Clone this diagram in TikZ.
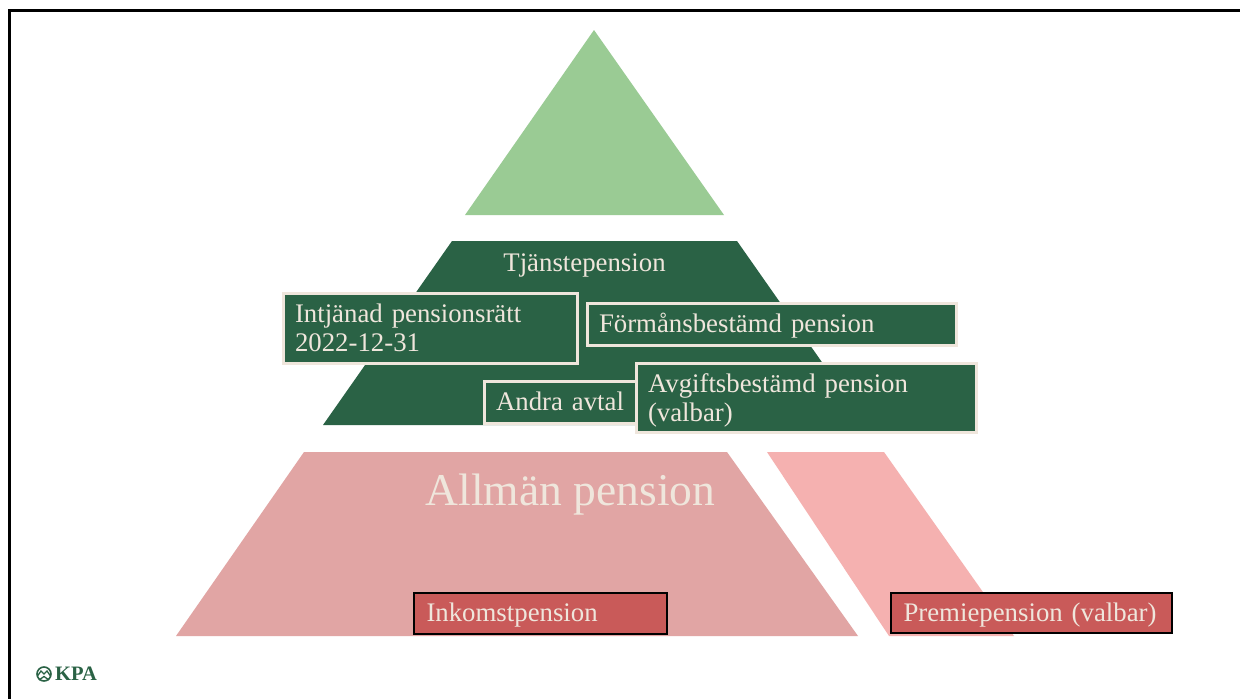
\documentclass[tikz,border=0pt]{standalone}
\usepackage{fontspec}
\setmainfont[WordSpace=0.72]{Liberation Serif}
\newfontfamily\bigserif{Liberation Serif}
\definecolor{cream}{HTML}{EFE6DC}
\definecolor{darkgreen}{HTML}{2A6245}
\definecolor{lightgreen}{HTML}{9ACB94}
\definecolor{rosepink}{HTML}{E1A5A4}
\definecolor{lightpink}{HTML}{F5B1B0}
\definecolor{boxred}{HTML}{C95A59}
\tikzset{
  lbl/.style={text=cream,font=\fontsize{26.8}{29}\selectfont,inner sep=0pt},
  gbox/.style={lbl,draw=cream,line width=3pt,fill=darkgreen,anchor=north west,align=left,inner xsep=11.5pt,inner ysep=0pt},
  rbox/.style={lbl,draw=black,line width=2pt,fill=boxred,anchor=north west,align=left,inner xsep=12.5pt,inner ysep=0pt,text height=22pt,text depth=5pt},
  oneline/.style={text height=20pt,text depth=5pt},
}
\begin{document}
\begin{tikzpicture}[x=1pt,y=-1pt]
\useasboundingbox (0,0) rectangle (1240,699);
\fill[white] (0,0) rectangle (1240,699);
\draw[black,line width=3pt] (9.5,699) -- (9.5,10.5) -- (1240,10.5);
\fill[lightgreen] (594,30) -- (724,215) -- (465,215) -- cycle;
\fill[darkgreen] (452,241) -- (737,241) -- (866,425) -- (323,425) -- cycle;
\fill[rosepink] (304,452) -- (727,452) -- (858,636) -- (176,636) -- cycle;
\fill[lightpink] (767,452) -- (884,452) -- (1014,636) -- (889,636) -- cycle;
\node[lbl] (tj) at (584.5,265) {Tjänstepension};
\node[lbl,font=\bigserif\fontsize{45.5}{50}\selectfont] (allm) at (570.5,495) {Allmän pension};
\node[gbox,text width=271pt,minimum height=70pt] (intj) at (282,292) {Intjänad pensionsrätt\\2022-12-31\rule[-2pt]{0pt}{0pt}};
\node[gbox,oneline,text width=346pt,minimum height=42pt] (form) at (586,302) {Förmånsbestämd pension};
\node[gbox,oneline,text width=130pt,minimum height=42pt] (andra) at (483,380) {Andra avtal};
\node[gbox,text width=317pt,minimum height=69pt] (avg) at (635,362) {\rule{0pt}{24pt}Avgiftsbestämd pension\\(valbar)};
\node[rbox,text width=228pt,minimum height=41pt] (ink) at (413,591.5) {Inkomstpension};
\node[rbox,text width=256pt,minimum height=40pt] (prem) at (890,591.5) {Premiepension (valbar)};
% logo
\node[inner sep=0pt,text=darkgreen,font=\bigserif\fontsize{20.5}{24}\selectfont\bfseries] (kpa) at (76,674) {KPA};
\draw[darkgreen,line width=1.6pt] (44,674) circle (7pt);
\draw[darkgreen,line width=1.3pt] (37.5,676) -- (41,671) -- (44,674) -- (47,671) -- (50.5,676);
\draw[darkgreen,line width=1.3pt] (39,680) -- (44,676.5) -- (49,680);
\end{tikzpicture}
\end{document}
